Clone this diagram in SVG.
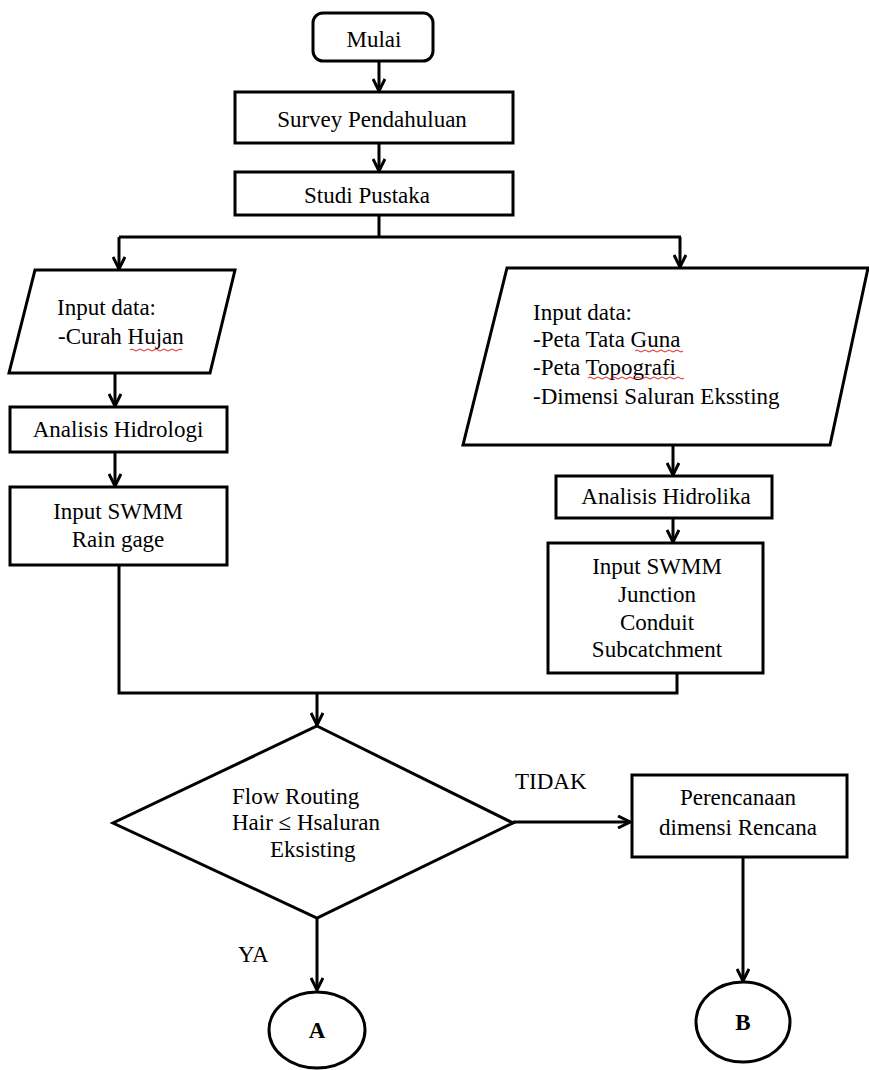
<svg xmlns="http://www.w3.org/2000/svg" width="869" height="1070" viewBox="0 0 869 1070">
<style>
.box{fill:#fff;stroke:#000;stroke-width:3}
.ln{fill:none;stroke:#000;stroke-width:3}
text{font-family:'Liberation Serif','DejaVu Serif','Times New Roman',serif;font-size:23px;fill:#000}
.c{text-anchor:middle}
.b{font-weight:bold}
.sq{fill:none;stroke:#e02020;stroke-width:1}
</style>
<defs>
<marker id="ah" markerUnits="userSpaceOnUse" markerWidth="16" markerHeight="14" refX="14" refY="7" orient="auto">
<polyline points="2,1 14,7 2,13" fill="none" stroke="#000" stroke-width="3"/>
</marker>
</defs>
<g id="connectors">
<line class="ln" x1="379" y1="61" x2="379" y2="91" marker-end="url(#ah)"/>
<line class="ln" x1="379" y1="143" x2="379" y2="171" marker-end="url(#ah)"/>
<polyline class="ln" points="379,215 379,237"/>
<polyline class="ln" points="119,237 681,237"/>
<line class="ln" x1="119" y1="237" x2="119" y2="269" marker-end="url(#ah)"/>
<line class="ln" x1="680" y1="237" x2="680" y2="267" marker-end="url(#ah)"/>
<line class="ln" x1="115" y1="373" x2="115" y2="406" marker-end="url(#ah)"/>
<line class="ln" x1="115" y1="452" x2="115" y2="486" marker-end="url(#ah)"/>
<line class="ln" x1="673" y1="445" x2="673" y2="475" marker-end="url(#ah)"/>
<line class="ln" x1="673" y1="518" x2="673" y2="542" marker-end="url(#ah)"/>
<polyline class="ln" points="119,565 119,693 677,693 677,673"/>
<line class="ln" x1="317" y1="693" x2="317" y2="725" marker-end="url(#ah)"/>
<line class="ln" x1="513" y1="822" x2="630" y2="822" marker-end="url(#ah)"/>
<line class="ln" x1="743" y1="857" x2="743" y2="981" marker-end="url(#ah)"/>
<line class="ln" x1="317" y1="918" x2="317" y2="990" marker-end="url(#ah)"/>
<text x="515" y="789">TIDAK</text>
<text x="238" y="962">YA</text>
</g>
<g id="mulai">
<rect class="box" x="313" y="13" width="120" height="48" rx="10"/>
<text class="c" x="374" y="47">Mulai</text>
</g>
<g id="survey">
<rect class="box" x="235" y="92" width="278" height="51"/>
<text class="c" x="372" y="127">Survey Pendahuluan</text>
</g>
<g id="studi">
<rect class="box" x="235" y="172" width="278" height="43"/>
<text class="c" x="367" y="203">Studi Pustaka</text>
</g>
<g id="input-curah">
<polygon class="box" points="35,270 235,270 210,373 9,373"/>
<text x="57" y="315">Input data:</text>
<text x="58" y="344">-Curah Hujan</text>
<path class="sq" d="M130,350 q2,-2 4,0 t4,0 t4,0 t4,0 t4,0 t4,0 t4,0 t4,0 t4,0 t4,0 t4,0 t4,0 t4,0"/>
</g>
<g id="hidrologi">
<rect class="box" x="10" y="407" width="217" height="45"/>
<text class="c" x="118" y="437">Analisis Hidrologi</text>
</g>
<g id="swmm-rain">
<rect class="box" x="10" y="487" width="217" height="78"/>
<text class="c" x="118" y="519">Input SWMM</text>
<text class="c" x="118" y="547">Rain gage</text>
</g>
<g id="input-peta">
<polygon class="box" points="507,268 868,268 830,445 463,445"/>
<text x="533" y="320">Input data:</text>
<text x="533" y="347">-Peta Tata Guna</text>
<text x="533" y="375">-Peta Topografi</text>
<text x="533" y="404">-Dimensi Saluran Ekssting</text>
<path class="sq" d="M635,351 q2,-2 4,0 t4,0 t4,0 t4,0 t4,0 t4,0 t4,0 t4,0 t4,0 t4,0 t4,0 t4,0"/>
<path class="sq" d="M588,378 q2,-2 4,0 t4,0 t4,0 t4,0 t4,0 t4,0 t4,0 t4,0 t4,0 t4,0 t4,0 t4,0 t4,0 t4,0 t4,0 t4,0 t4,0 t4,0 t4,0 t4,0 t4,0 t4,0 t4,0 t4,0"/>
</g>
<g id="hidrolika">
<rect class="box" x="556" y="476" width="216" height="42"/>
<text class="c" x="666" y="504">Analisis Hidrolika</text>
</g>
<g id="swmm-junction">
<rect class="box" x="548" y="543" width="215" height="130"/>
<text class="c" x="657" y="574">Input SWMM</text>
<text class="c" x="657" y="602">Junction</text>
<text class="c" x="657" y="630">Conduit</text>
<text class="c" x="657" y="657">Subcatchment</text>
</g>
<g id="decision">
<polygon class="box" points="317,726 513,823 317,918 113,823"/>
<text x="232" y="804">Flow Routing</text>
<text x="232" y="830">Hair ≤ Hsaluran</text>
<text x="270" y="857">Eksisting</text>
</g>
<g id="perencanaan">
<rect class="box" x="632" y="775" width="215" height="82"/>
<text class="c" x="738" y="805">Perencanaan</text>
<text class="c" x="738" y="835">dimensi Rencana</text>
</g>
<g id="a">
<ellipse class="box" cx="317" cy="1030" rx="48" ry="38"/>
<text class="c b" x="317" y="1038">A</text>
</g>
<g id="b">
<ellipse class="box" cx="743" cy="1022" rx="47" ry="40"/>
<text class="c b" x="743" y="1030">B</text>
</g>
</svg>
